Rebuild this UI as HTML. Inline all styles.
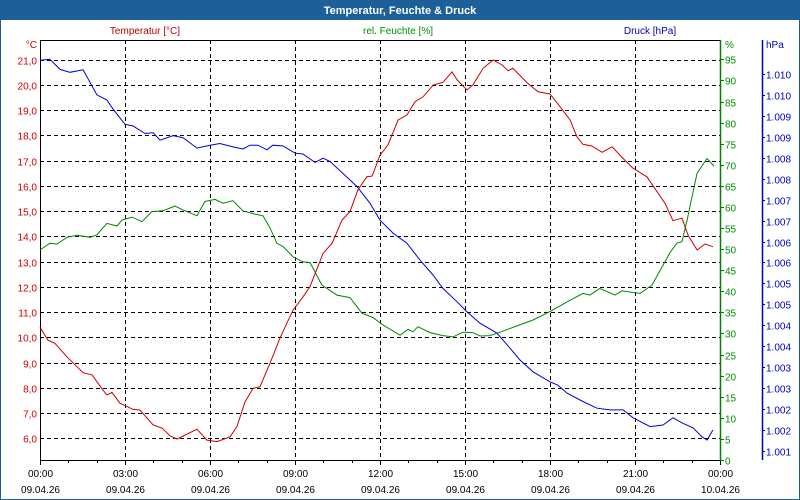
<!DOCTYPE html>
<html><head><meta charset="utf-8"><style>
html,body{margin:0;padding:0;background:#fff;}
#wrap{position:relative;width:800px;height:500px;overflow:hidden;font-family:"Liberation Sans","DejaVu Sans",sans-serif;}
svg text{font-family:"Liberation Sans","DejaVu Sans",sans-serif;}
</style></head><body>
<div id="wrap">
<svg id="chart" width="800" height="500" xmlns="http://www.w3.org/2000/svg">
<rect x="0" y="0" width="800" height="500" fill="#1d5f99"/>
<rect x="1" y="20" width="798" height="479" fill="#ffffff"/>
<text x="400" y="14" fill="#fff" font-size="11" font-weight="bold" text-anchor="middle">Temperatur, Feuchte &amp; Druck</text>
<text x="145" y="34" fill="#c00000" font-size="10" text-anchor="middle">Temperatur [°C]</text>
<text x="398" y="34" fill="#009000" font-size="10" text-anchor="middle">rel. Feuchte [%]</text>
<text x="650" y="34" fill="#0000c0" font-size="10" text-anchor="middle">Druck [hPa]</text>
<g id="grid"></g><g id="axes"></g><g id="series"></g>
</svg>
</div>
<script>
const tempHours=[0,0.28,0.53,0.95,1.52,1.84,2.19,2.36,2.54,2.82,3.28,3.53,3.99,4.31,4.59,4.84,5.05,5.54,5.89,6.25,6.71,6.95,7.24,7.52,7.76,8.12,8.47,8.93,9.25,9.53,9.99,10.31,10.66,10.94,11.22,11.54,11.72,12.00,12.28,12.64,12.95,13.24,13.52,13.88,14.22,14.54,14.72,15.07,15.28,15.64,15.99,16.31,16.52,16.69,17.19,17.58,18.00,18.35,18.71,18.95,19.16,19.48,19.84,20.19,20.54,20.93,21.42,21.78,22.06,22.34,22.66,22.87,23.19,23.47,23.75];
const tempValues=[10.40,9.89,9.76,9.23,8.60,8.51,7.96,7.72,7.82,7.39,7.15,7.12,6.53,6.40,6.09,5.97,6.09,6.36,5.93,5.87,6.06,6.46,7.45,7.98,8.04,8.98,9.97,11.08,11.55,12.01,13.33,13.73,14.65,14.98,15.84,16.37,16.39,17.22,17.62,18.61,18.81,19.34,19.53,20.00,20.10,20.52,20.20,19.80,20.00,20.66,20.99,20.79,20.56,20.66,20.09,19.73,19.64,19.14,18.61,17.95,17.65,17.58,17.33,17.55,17.13,16.70,16.36,15.77,15.31,14.62,14.72,14.05,13.46,13.70,13.59];
const humHours=[0,0.35,0.60,0.95,1.31,1.76,2.01,2.36,2.72,2.89,3.25,3.60,3.95,4.34,4.76,5.05,5.54,5.82,6.18,6.46,6.81,7.16,7.59,7.87,8.12,8.36,8.58,8.93,9.28,9.53,9.95,10.48,10.94,11.36,11.75,12.11,12.71,12.99,13.16,13.34,13.76,14.22,14.58,14.93,15.28,15.53,15.88,16.24,16.84,17.40,18.00,18.60,19.16,19.41,19.76,20.29,20.54,21.18,21.60,21.99,22.24,22.48,22.66,22.84,23.01,23.19,23.54,23.79];
const humValues=[49.8,51.4,51.2,52.8,53.3,52.8,53.4,56.1,55.5,56.9,57.6,56.5,58.9,59.1,60.2,59.3,57.9,61.3,61.8,60.9,61.5,59.1,58.3,57.9,55.0,51.4,50.6,48.2,47.0,46.8,41.5,39.1,38.5,34.8,33.8,32.0,29.6,31.0,30.4,31.6,30.2,29.5,29.2,30.3,30.2,29.4,29.5,30.3,31.8,33.2,35.2,37.5,39.5,39.1,40.7,39.1,40.1,39.5,41.5,46.2,49.2,51.4,51.8,56.9,62.4,68.0,71.5,69.7];
const presHours=[0,0.35,0.71,1.06,1.52,2.01,2.36,2.58,3.00,3.28,3.71,3.99,4.24,4.69,5.05,5.54,6.00,6.35,6.81,7.16,7.41,7.69,8.01,8.22,8.58,9.00,9.28,9.71,9.99,10.24,10.94,11.19,11.65,12.00,12.46,12.95,13.41,13.87,14.22,14.72,15.07,15.53,16.13,16.59,16.94,17.40,18.00,18.28,18.60,19.16,19.66,20.12,20.58,20.93,21.53,21.99,22.34,22.69,23.05,23.36,23.54,23.75];
const presValues=[1010.33,1010.35,1010.11,1010.04,1010.10,1009.50,1009.38,1009.16,1008.80,1008.76,1008.58,1008.60,1008.42,1008.53,1008.48,1008.23,1008.30,1008.34,1008.26,1008.21,1008.30,1008.30,1008.19,1008.30,1008.28,1008.11,1008.09,1007.89,1007.99,1007.91,1007.47,1007.31,1006.91,1006.51,1006.20,1005.96,1005.56,1005.20,1004.88,1004.56,1004.32,1004.05,1003.81,1003.45,1003.17,1002.89,1002.65,1002.57,1002.38,1002.18,1002.02,1001.98,1001.98,1001.79,1001.58,1001.62,1001.79,1001.66,1001.55,1001.34,1001.26,1001.50];
const tempTicks=[6,7,8,9,10,11,12,13,14,15,16,17,18,19,20,21];
const humTicks=[0,5,10,15,20,25,30,35,40,45,50,55,60,65,70,75,80,85,90,95];
const presTicks=[1001.0,1001.5,1002.0,1002.5,1003.0,1003.5,1004.0,1004.5,1005.0,1005.5,1006.0,1006.5,1007.0,1007.5,1008.0,1008.5,1009.0,1009.5,1010.0];
const presTickLabels=["1.001","1.002","1.002","1.003","1.003","1.004","1.004","1.005","1.005","1.006","1.006","1.007","1.007","1.008","1.008","1.009","1.009","1.010","1.010"];
const timeTicks=[0,3,6,9,12,15,18,21,24];
const timeLabels=["00:00","03:00","06:00","09:00","12:00","15:00","18:00","21:00","00:00"];
const dateLabels=["09.04.26","09.04.26","09.04.26","09.04.26","09.04.26","09.04.26","09.04.26","09.04.26","10.04.26"];

const L=40,R=720,T=40,B=460;
const xS=h=>L+h/24*(R-L);
const yT=v=>59.7+(21-v)*25.24;
const yH=v=>460-v*4.217;
const yP=v=>74+(1010-v)/0.5*20.94;
const NS="http://www.w3.org/2000/svg";
function mk(tag,attrs,parent,txt){const e=document.createElementNS(NS,tag);for(const k in attrs)e.setAttribute(k,attrs[k]);if(txt!==undefined)e.textContent=txt;parent.appendChild(e);return e;}
const grid=document.getElementById('grid'),axes=document.getElementById('axes'),series=document.getElementById('series');

tempTicks.forEach(v=>{const y=Math.round(yT(v))+0.5;
 const g=mk('line',{x1:L,x2:R,y1:y,y2:y,stroke:'#000','stroke-width':1,'stroke-dasharray':'4,3'},grid);
 
 
 const t=mk('text',{x:37,y:y+4,'text-anchor':'end','font-size':10,fill:'#d00000'},axes,v.toFixed(1).replace('.',','));
 
 
});
timeTicks.forEach((h,i)=>{const x=Math.round(xS(h))+0.5;
 if(i>0&&i<timeTicks.length-1){const g=mk('line',{x1:x,x2:x,y1:T,y2:B,stroke:'#000','stroke-width':1,'stroke-dasharray':'4,3'},grid);
 
 }
 const tk=mk('line',{x1:x,x2:x,y1:B,y2:B+5,stroke:'#000'},axes);
 
 
 const t1=mk('text',{x:x,y:477,'text-anchor':'middle','font-size':10,fill:'#000'},axes,timeLabels[i]);
 
 
 const t2=mk('text',{x:x,y:493,'text-anchor':'middle','font-size':10,fill:'#000'},axes,dateLabels[i]);
 
 
});
for(let h=1;h<24;h++){if(h%3===0)continue;const x=Math.round(xS(h))+0.5;
 const tk=mk('line',{x1:x,x2:x,y1:B,y2:B+3,stroke:'#000'},axes);
 
 }
humTicks.forEach(v=>{const y=Math.round(yH(v))+0.5;
 const tk=mk('line',{x1:R,x2:R+4,y1:y,y2:y,stroke:'#008000'},axes);
 
 
 const t=mk('text',{x:725,y:y+4,'font-size':10,fill:'#009000'},axes,String(v));
 
 
});
presTicks.forEach((v,i)=>{const y=Math.round(yP(v))+0.5;
 const tk=mk('line',{x1:762,x2:765,y1:y,y2:y,stroke:'#0000c0'},axes);
 
 
 const t=mk('text',{x:766,y:y+4,'font-size':10,fill:'#0000c0'},axes,presTickLabels[i]);
 
 
});
[['line',{x1:L,x2:R,y1:T+0.5,y2:T+0.5,stroke:'#000'},'plot-top-border'],
 ['line',{x1:L+0.5,x2:L+0.5,y1:T,y2:B,stroke:'#000'},'temp-axis-line'],
 ['line',{x1:L,x2:R,y1:B+0.5,y2:B+0.5,stroke:'#000'},'x-axis-line'],
 ['line',{x1:R+0.5,x2:R+0.5,y1:T,y2:B,stroke:'#008000','stroke-width':1.5},'humidity-axis-line'],
 ['line',{x1:762.5,x2:762.5,y1:T,y2:B,stroke:'#0000c0','stroke-width':1.5},'pressure-axis-line']
].forEach(a=>{const e=mk(a[0],a[1],axes);
 
 });
const u1=mk('text',{x:37,y:48,'text-anchor':'end','font-size':10,fill:'#d00000'},axes,'°C');


const u2=mk('text',{x:725,y:48,'font-size':10,fill:'#009000'},axes,'%');


const u3=mk('text',{x:766,y:48,'font-size':10,fill:'#0000c0'},axes,'hPa');



function line(hs,vs,yf,color){return hs.map((h,i)=>xS(h).toFixed(1)+','+yf(vs[i]).toFixed(1)).join(' ');}
const pP=mk('polyline',{points:line(presHours,presValues,yP),fill:'none',stroke:'#0000e0','stroke-width':1},series);


const pH=mk('polyline',{points:line(humHours,humValues,yH),fill:'none',stroke:'#008800','stroke-width':1},series);


const pT=mk('polyline',{points:line(tempHours,tempValues,yT),fill:'none',stroke:'#d00000','stroke-width':1},series);


</script>
</body></html>
